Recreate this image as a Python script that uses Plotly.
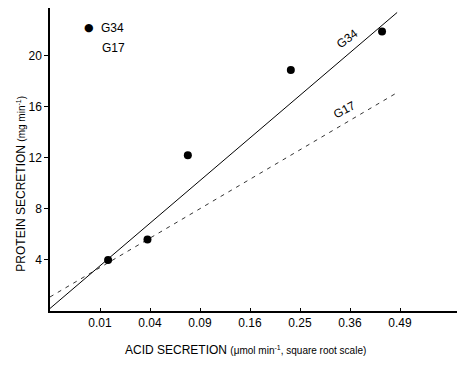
import numpy as np
import plotly.graph_objects as go

# Data (acid secretion in umol/min, protein secretion in mg/min)
acid = [0.0135, 0.038, 0.076, 0.232, 0.441]
protein = [4.0, 5.6, 12.2, 18.9, 21.9]

# Regression lines (endpoints in data units)
g34_x = [0.0, 0.482]
g34_y = [0.2, 23.4]
g17_x = [0.0, 0.487]
g17_y = [1.1, 17.2]

xtick_labels = ["0.01", "0.04", "0.09", "0.16", "0.25", "0.36", "0.49"]
ytick_vals = [4, 8, 12, 16, 20]

FONT = "Liberation Sans, Arial, sans-serif"

def sq(v):
    return np.sqrt(np.array(v, dtype=float))

fig = go.Figure()
fig.add_trace(go.Scatter(x=sq(g34_x), y=g34_y, mode="lines",
                         line=dict(color="black", width=1), showlegend=False))
fig.add_trace(go.Scatter(x=sq(g17_x), y=g17_y, mode="lines",
                         line=dict(color="black", width=0.8, dash="4px,5px"), showlegend=False))
fig.add_trace(go.Scatter(x=sq(acid), y=protein, mode="markers",
                         marker=dict(color="black", size=8), showlegend=False))

xvals = [float(np.sqrt(float(t))) for t in xtick_labels]

fig.update_layout(
    width=457, height=357,
    margin=dict(l=42, r=0, t=0, b=54),
    paper_bgcolor="white", plot_bgcolor="white",
    font=dict(family=FONT, color="black", size=12),
    xaxis=dict(range=[0, 0.83], tickvals=xvals, ticktext=xtick_labels,
               showgrid=False, zeroline=False, showline=True, linecolor="black", linewidth=1.5,
               ticks="inside", ticklen=3, tickcolor="black", tickfont=dict(size=12, family=FONT)),
    yaxis=dict(range=[0, 23.75], tickvals=ytick_vals,
               showgrid=False, zeroline=False, showline=True, linecolor="black", linewidth=1.5,
               ticks="outside", ticklen=4, tickcolor="black", tickfont=dict(size=12, family=FONT)),
    annotations=[
        dict(text="ACID SECRETION <span style='font-size:10px'>(μmol min<sup>-1</sup>, square root scale)</span>",
             xref="paper", yref="paper", x=0.47, y=-0.13, xanchor="center", yanchor="middle",
             showarrow=False, font=dict(size=12, family=FONT)),
        dict(text="PROTEIN SECRETION <span style='font-size:10px'>(mg min<sup>-1</sup>)</span>",
             xref="paper", yref="paper", x=-0.07, y=0.42, xanchor="center", yanchor="middle",
             textangle=-90, showarrow=False, font=dict(size=12, family=FONT)),
        dict(text="●", xref="paper", yref="paper",
             x=0.094, y=0.936, xanchor="center", yanchor="middle", showarrow=False,
             font=dict(size=11, family="DejaVu Sans")),
        dict(text="G34", xref="paper", yref="paper", x=0.118, y=0.934,
             xanchor="left", yanchor="middle", showarrow=False, font=dict(size=12, family=FONT)),
        dict(text="G17", xref="paper", yref="paper", x=0.12, y=0.868,
             xanchor="left", yanchor="middle", showarrow=False, font=dict(size=12, family=FONT)),
        dict(text="G34", xref="x", yref="y", x=0.594, y=21.3, textangle=-37,
             showarrow=False, font=dict(size=12, family=FONT)),
        dict(text="G17", xref="x", yref="y", x=0.588, y=15.75, textangle=-28,
             showarrow=False, font=dict(size=12, family=FONT)),
    ],
)

fig.write_html("out.html")
